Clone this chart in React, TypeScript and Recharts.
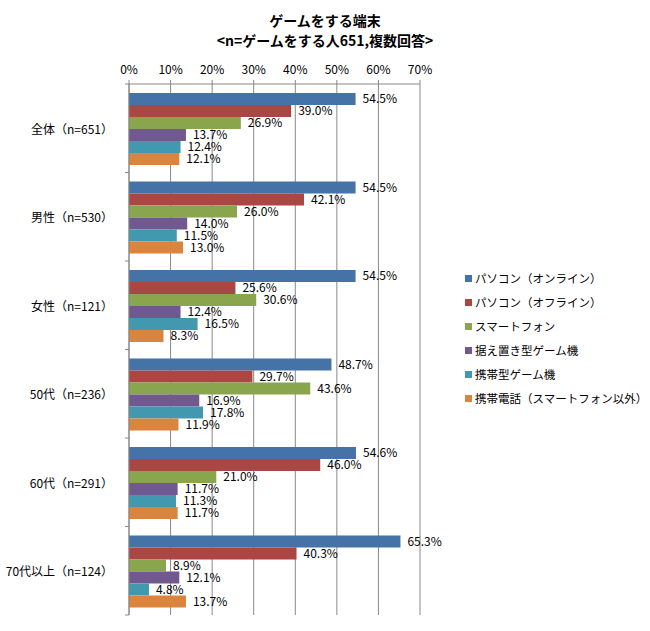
import React from 'react';
import { Bar, BarChart, CartesianGrid, LabelList, XAxis, YAxis } from 'recharts';

const categories = ['全体（n=651）', '男性（n=530）', '女性（n=121）', '50代（n=236）', '60代（n=291）', '70代以上（n=124）'];
const seriesNames = ['パソコン（オンライン）', 'パソコン（オフライン）', 'スマートフォン', '据え置き型ゲーム機', '携帯型ゲーム機', '携帯電話（スマートフォン以外）'];
const pcOnline = [54.5, 54.5, 54.5, 48.7, 54.6, 65.3];
const pcOffline = [39.0, 42.1, 25.6, 29.7, 46.0, 40.3];
const smartphone = [26.9, 26.0, 30.6, 43.6, 21.0, 8.9];
const homeConsole = [13.7, 14.0, 12.4, 16.9, 11.7, 12.1];
const handheld = [12.4, 11.5, 16.5, 17.8, 11.3, 4.8];
const featurePhone = [12.1, 13.0, 8.3, 11.9, 11.7, 13.7];
const xTicks = [0, 10, 20, 30, 40, 50, 60, 70];

const seriesKeys = ['s0', 's1', 's2', 's3', 's4', 's5'];
const seriesValues = [pcOnline, pcOffline, smartphone, homeConsole, handheld, featurePhone];
const colors = ['#4572A7', '#AA4643', '#89A54E', '#71588F', '#4198AF', '#DB843D'];

const data = categories.map((name, i) => {
  const row: Record<string, string | number> = { name };
  seriesKeys.forEach((k, j) => (row[k] = seriesValues[j][i]));
  return row;
});

const FONT = "'Noto Sans CJK JP', sans-serif";
const W = 650;
const H = 631;
const PLOT_TOP = 84;
const PLOT_BOTTOM = 615;
const PLOT_LEFT = 129;
const PLOT_RIGHT = 420;
const AXIS_H = 20;
const BAND = (PLOT_BOTTOM - PLOT_TOP) / categories.length;

const CategoryTick = (props: any) => {
  const { x, y, payload, index } = props;
  return (
    <g>
      <text x={x - 16} y={y} textAnchor="end" dominantBaseline="central" fontSize={12} fill="#000" fontFamily={FONT}>
        {payload.value}
      </text>
      <line x1={x - 4} x2={x} y1={y - BAND / 2} y2={y - BAND / 2} stroke="#888" />
      {index === categories.length - 1 && (
        <line x1={x - 4} x2={x} y1={y + BAND / 2} y2={y + BAND / 2} stroke="#888" />
      )}
    </g>
  );
};

const App: React.FC = () => (
  <div style={{ position: 'absolute', left: 0, top: 0, width: W, height: H, background: '#fff', fontFamily: FONT }}>
    <div style={{ position: 'absolute', top: 10, width: W, textAlign: 'center', fontWeight: 'bold', fontSize: 14, lineHeight: '20px' }}>
      <div>ゲームをする端末</div>
      <div>{'<n=ゲームをする人651,複数回答>'}</div>
    </div>
    <BarChart
      width={W}
      height={H}
      data={data}
      layout="vertical"
      margin={{ top: PLOT_TOP - AXIS_H, right: W - PLOT_RIGHT, bottom: H - PLOT_BOTTOM, left: 0 }}
      barCategoryGap={9}
      barGap={0}
      style={{ position: 'absolute', left: 0, top: 0 }}
    >
      <CartesianGrid horizontal={false} stroke="#888" />
      <XAxis
        type="number"
        orientation="top"
        domain={[0, 70]}
        ticks={xTicks}
        tickFormatter={(v: number) => `${v}%`}
        height={AXIS_H}
        stroke="#888"
        tickSize={4}
        tickMargin={6}
        tick={{ fill: '#000', fontSize: 12, fontFamily: FONT }}
      />
      <YAxis
        type="category"
        dataKey="name"
        width={PLOT_LEFT}
        stroke="#888"
        tickLine={false}
        tickSize={0}
        tickMargin={0}
        tick={<CategoryTick />}
      />
      {seriesKeys.map((k, j) => (
        <Bar key={k} dataKey={k} name={seriesNames[j]} fill={colors[j]} isAnimationActive={false}>
          <LabelList
            dataKey={k}
            position="right"
            offset={7}
            fontSize={12}
            fill="#000"
            fontFamily={FONT}
            formatter={(v: any) => `${Number(v).toFixed(1)}%`}
          />
        </Bar>
      ))}
    </BarChart>
    <div style={{ position: 'absolute', left: 465, top: 266 }}>
      {seriesNames.map((n, j) => (
        <div key={n} style={{ display: 'flex', alignItems: 'center', height: 24, fontSize: 11.5 }}>
          <span style={{ width: 7, height: 7, background: colors[j], marginRight: 3 }} />
          <span>{n}</span>
        </div>
      ))}
    </div>
  </div>
);

export default App;
